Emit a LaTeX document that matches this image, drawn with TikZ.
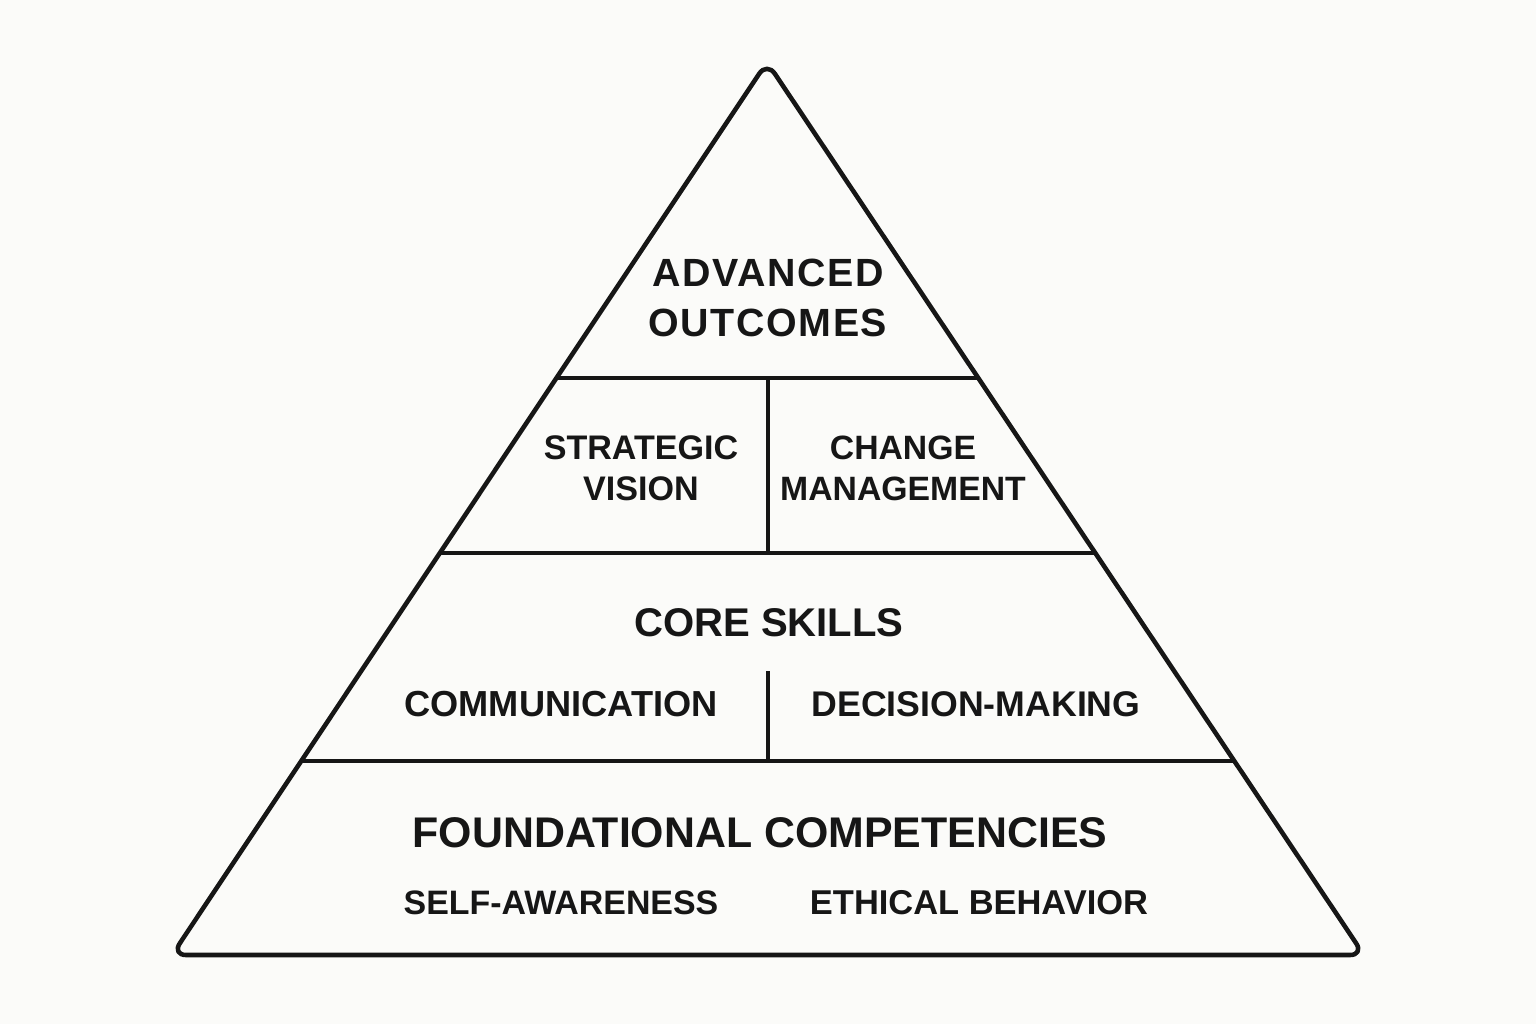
\documentclass[tikz,border=0pt]{standalone}
\usepackage{fontspec}
\setmainfont{Liberation Sans}
\usepackage{xcolor}
\usepackage{tikz}
\usetikzlibrary{calc,positioning}
\definecolor{paper}{HTML}{FBFBF9}
\definecolor{ink}{HTML}{161616}
\tikzset{
  edge/.style={draw=ink, line width=1.3pt},
  lbl/.style={text=ink, align=center, font=\bfseries\fontsize{#1}{#1}\selectfont, inner sep=0pt},
}
\begin{document}
\begin{tikzpicture}
\fill[paper] (0,0) rectangle (15.36,10.24);
\useasboundingbox (0,0) rectangle (15.36,10.24);

\coordinate (apex) at (7.67,9.62);
\coordinate (bl) at (1.72,0.69);
\coordinate (br) at (13.64,0.69);
\draw[edge, rounded corners=4pt, line join=round] ($(apex)!0.5!(bl)$) -- (apex) -- (br) -- (bl) -- cycle;

\coordinate (l1) at ($(apex)!0.3539!(bl)$);
\coordinate (r1) at ($(apex)!0.3539!(br)$);
\coordinate (l2) at ($(apex)!0.5498!(bl)$);
\coordinate (r2) at ($(apex)!0.5498!(br)$);
\coordinate (l3) at ($(apex)!0.7828!(bl)$);
\coordinate (r3) at ($(apex)!0.7828!(br)$);
\draw[edge] (l1) -- (r1);
\draw[edge] (l2) -- (r2);
\draw[edge] (l3) -- (r3);

\coordinate (v1) at (7.68,6.46);
\coordinate (v2) at (7.68,4.71);
\coordinate (v3) at (7.68,3.53);
\coordinate (v4) at (7.68,2.63);
\draw[edge] (v1) -- (v2);
\draw[edge] (v3) -- (v4);

\node[lbl=11.2pt, text width=8cm, execute at begin node={\baselineskip=14.2pt\addfontfeatures{LetterSpace=4}}] (adv) at (7.68,7.26) {ADVANCED\\OUTCOMES};
\node[lbl=9.7pt, execute at begin node={\baselineskip=11.7pt}] (strat) at (6.41,5.56) {STRATEGIC\\VISION};
\node[lbl=9.6pt, execute at begin node={\baselineskip=11.7pt}] (chg) at (9.03,5.56) {CHANGE\\MANAGEMENT};
\node[lbl=11.4pt] (core) at (7.69,4.01) {CORE SKILLS};
\node[lbl=10.3pt] (comm) at (5.61,3.195) {COMMUNICATION};
\node[lbl=10.15pt] (dec) at (9.76,3.195) {DECISION-MAKING};
\node[lbl=12.2pt] (found) at (7.60,1.91) {FOUNDATIONAL COMPETENCIES};
\node[lbl=9.65pt] (self) at (5.61,1.21) {SELF-AWARENESS};
\node[lbl=9.8pt] (eth) at (9.79,1.21) {ETHICAL BEHAVIOR};
\end{tikzpicture}
\end{document}
